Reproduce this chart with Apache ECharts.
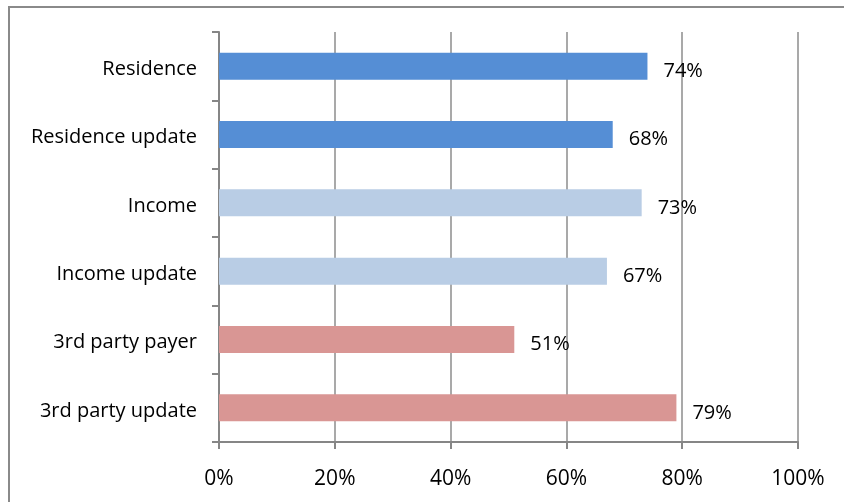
<!DOCTYPE html>
<html>
<head>
<meta charset="utf-8">
<script src="https://cdn.jsdelivr.net/npm/echarts@6/dist/echarts.min.js"></script>
<style>
  html, body { margin: 0; padding: 0; background: #fff; }
  #frame { position: absolute; left: 8px; top: 6px; width: 900px; height: 600px; border: 2px solid #8a8a8a; box-sizing: border-box; }
  #chart { position: absolute; left: 0; top: 0; width: 844px; height: 502px; }
</style>
</head>
<body>
<div id="frame"></div>
<div id="chart"></div>
<script>
// Categories listed top to bottom
const categories = ['Residence', 'Residence update', 'Income', 'Income update', '3rd party payer', '3rd party update'];
// Share of records, percent
const values = [74, 68, 73, 67, 51, 79];
const barColors = ['#558ED5', '#558ED5', '#B9CDE5', '#B9CDE5', '#D99694', '#D99694'];
const xTicks = [0, 20, 40, 60, 80, 100];

const font = '"Open Sans", "Noto Sans", sans-serif';
const chart = echarts.init(document.getElementById('chart'));
chart.setOption({
  animation: false,
  grid: { left: 219, right: 46, top: 32, bottom: 60 },
  xAxis: {
    type: 'value', min: xTicks[0], max: xTicks[xTicks.length - 1], interval: 20,
    axisLine: { show: true, lineStyle: { color: '#868686', width: 2 } },
    axisTick: { show: true, length: 7, lineStyle: { color: '#868686', width: 2 } },
    splitLine: { show: true, lineStyle: { color: '#8c8c8c', width: 1.5 } },
    axisLabel: { formatter: '{value}%', color: '#000', fontFamily: font, fontSize: 21, margin: 27 }
  },
  yAxis: {
    type: 'category', data: categories.slice().reverse(),
    axisLine: { show: true, lineStyle: { color: '#868686', width: 2 } },
    axisTick: { show: true, length: 7, lineStyle: { color: '#868686', width: 2 } },
    axisLabel: {
      color: '#000', fontFamily: font, fontSize: 20, margin: 22,
      formatter: v => '{c|' + v + '}',
      rich: { c: { fontFamily: font, fontSize: 20, color: '#000', padding: [6, 0, 0, 0] } }
    }
  },
  series: [{
    type: 'bar',
    barWidth: 27,
    data: values.map((v, i) => ({ value: v, itemStyle: { color: barColors[i] } })).reverse(),
    label: {
      show: true, position: 'right', distance: 16, offset: [0, 5],
      formatter: '{c}%', color: '#000', fontFamily: font, fontSize: 20
    }
  }]
});
</script>
</body>
</html>
